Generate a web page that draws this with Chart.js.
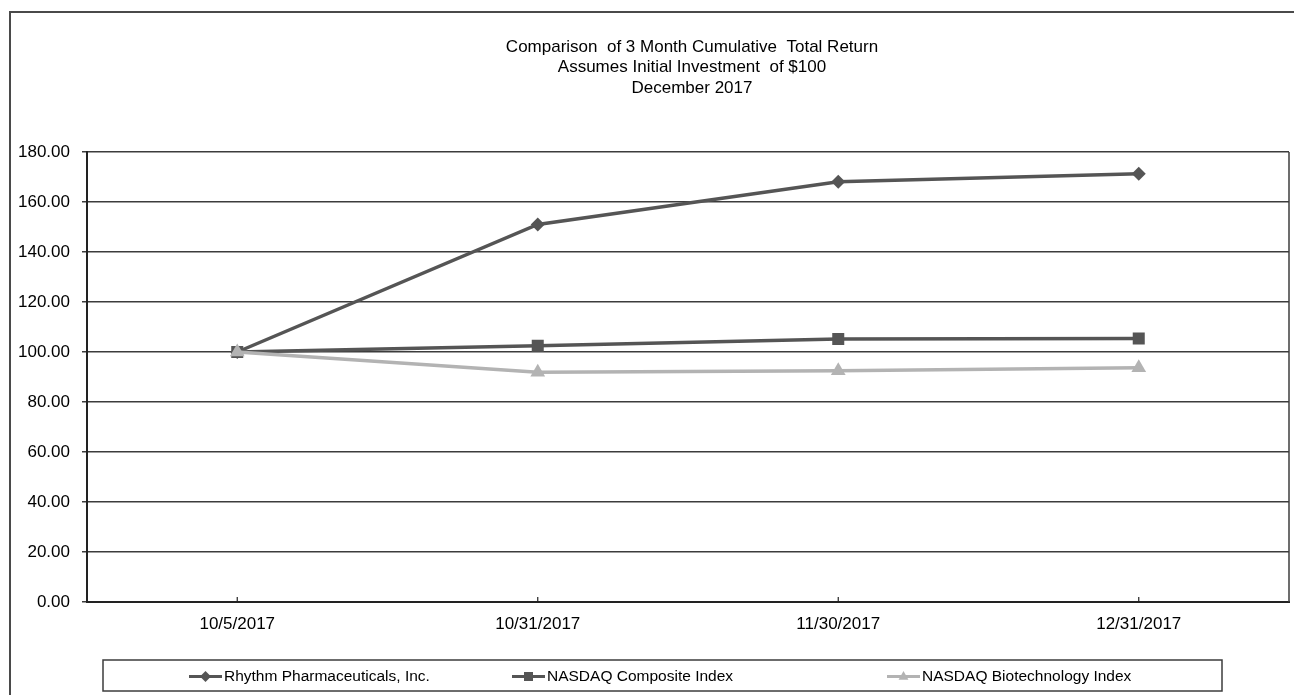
<!DOCTYPE html>
<html>
<head>
<meta charset="utf-8">
<script src="https://cdn.jsdelivr.net/npm/chart.js@4/dist/chart.umd.min.js"></script>
<style>
  body { margin: 0; background: #fff; }
  #wrap { width: 1294px; height: 695px; }
</style>
</head>
<body>
<div id="wrap"><canvas id="returnChart" width="1294" height="695"></canvas></div>
<script>
// chart data
var dates = ['10/5/2017', '10/31/2017', '11/30/2017', '12/31/2017'];
var rhythm = [100.00, 151.00, 168.10, 171.30];
var nasdaqComposite = [100.00, 102.50, 105.20, 105.40];
var nasdaqBiotech = [100.00, 91.90, 92.50, 93.70];
var seriesNames = ['Rhythm Pharmaceuticals, Inc.', 'NASDAQ Composite Index', 'NASDAQ Biotechnology Index'];
var titleLines = ['Comparison  of 3 Month Cumulative  Total Return', 'Assumes Initial Investment  of $100', 'December 2017'];
var yTicks = [0, 20, 40, 60, 80, 100, 120, 140, 160, 180];

var FONT = '"Liberation Sans", Arial, sans-serif';
var dark = '#555555';
var light = '#b3b3b3';

function drawMarker(ctx, style, x, y, r, color) {
    ctx.save();
    ctx.fillStyle = color;
    ctx.beginPath();
    if (style === 'rectRot') {
        ctx.moveTo(x, y - r); ctx.lineTo(x + r, y); ctx.lineTo(x, y + r); ctx.lineTo(x - r, y);
    } else if (style === 'rect') {
        ctx.rect(x - r, y - r, 2 * r, 2 * r);
    } else {
        ctx.moveTo(x, y - r); ctx.lineTo(x + r * 0.9, y + r * 0.6); ctx.lineTo(x - r * 0.9, y + r * 0.6);
    }
    ctx.closePath();
    ctx.fill();
    ctx.restore();
}

var decorPlugin = {
    id: 'decor',
    beforeDraw: function(chart) {
        var ctx = chart.ctx;
        ctx.save();
        // outer frame
        ctx.strokeStyle = '#4a4a4a';
        ctx.lineWidth = 2;
        ctx.beginPath();
        ctx.moveTo(10, 695); ctx.lineTo(10, 12); ctx.lineTo(1294, 12);
        ctx.stroke();
        // title
        ctx.fillStyle = '#000';
        ctx.font = '17px ' + FONT;
        ctx.textAlign = 'center';
        ctx.textBaseline = 'middle';
        titleLines.forEach(function(t, i) {
            ctx.fillText(t, 692, 47 + i * 20.5);
        });
        ctx.restore();
    },
    beforeDatasetsDraw: function(chart) {
        var ctx = chart.ctx, a = chart.chartArea;
        ctx.save();
        // plot area border (right side)
        ctx.strokeStyle = '#3c3c3c';
        ctx.lineWidth = 1.5;
        ctx.beginPath();
        ctx.moveTo(a.right, a.top); ctx.lineTo(a.right, a.bottom);
        ctx.stroke();
        // small inner ticks on x axis
        var xs = chart.scales.x;
        ctx.strokeStyle = '#222';
        ctx.lineWidth = 1.2;
        dates.forEach(function(d, i) {
            var px = xs.getPixelForValue(i);
            ctx.beginPath();
            ctx.moveTo(px, a.bottom); ctx.lineTo(px, a.bottom - 5);
            ctx.stroke();
        });
        ctx.restore();
    },
    afterDraw: function(chart) {
        var ctx = chart.ctx;
        ctx.save();
        // legend box
        ctx.strokeStyle = '#3c3c3c';
        ctx.lineWidth = 1.5;
        ctx.strokeRect(103, 660, 1119, 31);
        var itemX = [189, 512, 887];
        ctx.font = '15.5px ' + FONT;
        ctx.textAlign = 'left';
        ctx.textBaseline = 'middle';
        chart.data.datasets.forEach(function(ds, i) {
            var x0 = itemX[i], y = 676.5;
            ctx.strokeStyle = ds.borderColor;
            ctx.lineWidth = 3;
            ctx.beginPath();
            ctx.moveTo(x0, y); ctx.lineTo(x0 + 33, y);
            ctx.stroke();
            var r = ds.pointStyle === 'rect' ? 4.5 : 5.5;
            drawMarker(ctx, ds.pointStyle, x0 + 16.5, y, r, ds.borderColor);
            ctx.fillStyle = '#000';
            ctx.fillText(ds.label, x0 + 35, y + 0.5);
        });
        ctx.restore();
    }
};

var ctx = document.getElementById('returnChart').getContext('2d');
var returnChart = new Chart(ctx, {
    type: 'line',
    data: {
        labels: dates,
        datasets: [{
            label: seriesNames[0],
            data: rhythm,
            borderColor: dark,
            backgroundColor: dark,
            borderWidth: 3.5,
            pointStyle: 'rectRot',
            pointRadius: 7,
            pointBorderWidth: 0,
            tension: 0,
            order: 2
        }, {
            label: seriesNames[1],
            data: nasdaqComposite,
            borderColor: dark,
            backgroundColor: dark,
            borderWidth: 3.5,
            pointStyle: 'rect',
            pointRadius: 8.5,
            pointBorderWidth: 0,
            tension: 0,
            order: 1
        }, {
            label: seriesNames[2],
            data: nasdaqBiotech,
            borderColor: light,
            backgroundColor: light,
            borderWidth: 3.5,
            pointStyle: 'triangle',
            pointRadius: 8.5,
            pointBorderWidth: 0,
            tension: 0,
            order: 0
        }]
    },
    options: {
        responsive: false,
        animation: false,
        layout: {
            autoPadding: false,
            padding: { top: 152, right: 5, left: 0, bottom: 0 }
        },
        plugins: {
            legend: { display: false },
            title: { display: false },
            tooltip: { enabled: false }
        },
        scales: {
            x: {
                offset: true,
                grid: { display: false, drawTicks: false },
                border: { display: true, color: '#222', width: 2 },
                ticks: {
                    color: '#000',
                    padding: 12,
                    maxRotation: 0,
                    font: { family: FONT, size: 17 }
                },
                afterFit: function(scale) {
                    scale.height = 93;
                    scale.paddingLeft = 0;
                    scale.paddingRight = 0;
                }
            },
            y: {
                min: yTicks[0],
                max: yTicks[yTicks.length - 1],
                afterBuildTicks: function(scale) {
                    scale.ticks = yTicks.map(function(v) { return { value: v }; });
                },
                grid: { color: '#3c3c3c', lineWidth: 1.5, tickLength: 5, drawTicks: true },
                border: { display: true, color: '#222', width: 2 },
                ticks: {
                    color: '#000',
                    padding: 12,
                    font: { family: FONT, size: 17 },
                    callback: function(v) { return Number(v).toFixed(2); }
                },
                afterFit: function(scale) { scale.width = 87; }
            }
        }
    },
    plugins: [decorPlugin]
});
</script>
</body>
</html>
